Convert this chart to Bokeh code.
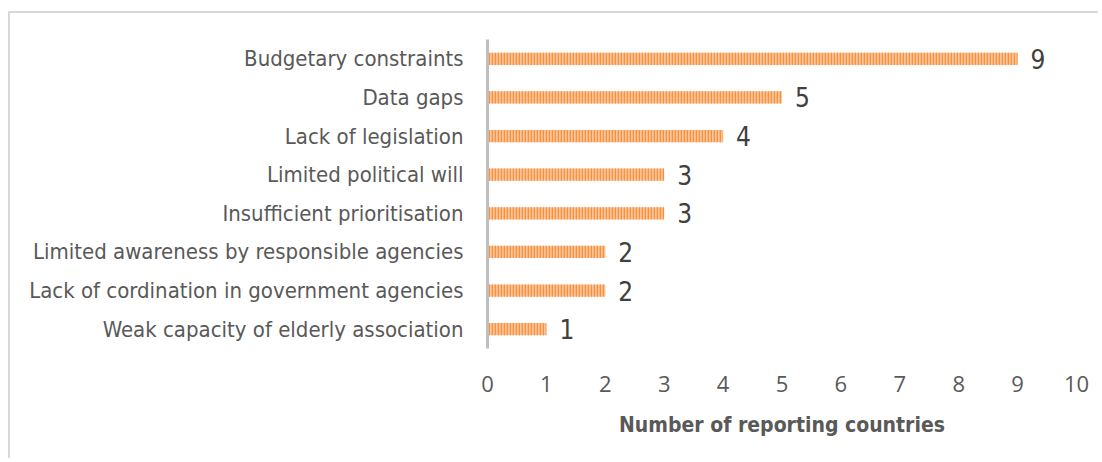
from bokeh.plotting import figure
from bokeh.models import FactorRange, Range1d, ColumnDataSource, FixedTicker
from bokeh.core.properties import value
from bokeh.embed import file_html
from bokeh.resources import INLINE

categories = [
    "Budgetary constraints",
    "Data gaps",
    "Lack of legislation",
    "Limited political will",
    "Insufficient prioritisation",
    "Limited awareness by responsible agencies",
    "Lack of cordination in government agencies",
    "Weak capacity of elderly association",
]
counts = [9, 5, 4, 3, 3, 2, 2, 1]
x_ticks = [0, 1, 2, 3, 4, 5, 6, 7, 8, 9, 10]
x_title = "Number of reporting countries"

NARROW = "'Liberation Sans Narrow', 'Arial Narrow', 'DejaVu Sans Condensed', sans-serif"
TICKF = "Open Sans"

src = ColumnDataSource(dict(cat=categories, n=counts, lbl=[str(v) for v in counts]))

p = figure(
    width=1090, height=447,
    y_range=FactorRange(factors=list(reversed(categories)), range_padding=0),
    x_range=Range1d(0, 10),
    output_backend="svg", toolbar_location=None,
    min_border_left=477, min_border_right=24, min_border_top=26, min_border_bottom=112,
)
p.styles = {
    "margin-left": "8px", "margin-top": "11px",
    "border-top": "2px solid #d9d9d9", "border-left": "2px solid #d9d9d9",
}

p.hbar(y="cat", right="n", left=0, height=0.32, source=src,
       fill_color="#FBC49A", line_color=None,
       hatch_pattern="|", hatch_color="#F7923F", hatch_scale=3, hatch_weight=1.6)

p.text(x="n", y="cat", text="lbl", source=src, x_offset=13,
       text_baseline="middle", text_align="left",
       text_font=value(NARROW), text_font_size="26px", text_color="#404040")

p.outline_line_color = None
p.grid.visible = False

xa = p.xaxis[0]
xa.ticker = FixedTicker(ticks=x_ticks)
xa.axis_line_color = None
xa.major_tick_line_color = None
xa.minor_tick_line_color = None
xa.major_label_text_font = TICKF
xa.major_label_text_font_size = "22px"
xa.major_label_text_color = "#595959"
xa.major_label_standoff = 21
xa.axis_label = x_title
xa.axis_label_text_font = NARROW
xa.axis_label_text_font_style = "bold"
xa.axis_label_text_font_size = "21px"
xa.axis_label_text_color = "#595959"
xa.axis_label_standoff = 18

ya = p.yaxis[0]
ya.axis_line_color = "#BFBFBF"
ya.axis_line_width = 3
ya.major_tick_line_color = None
ya.minor_tick_line_color = None
ya.major_label_text_font = NARROW
ya.major_label_text_font_size = "22px"
ya.major_label_text_color = "#595959"
ya.major_label_standoff = 18

open("out.html", "w").write(file_html(p, INLINE))
